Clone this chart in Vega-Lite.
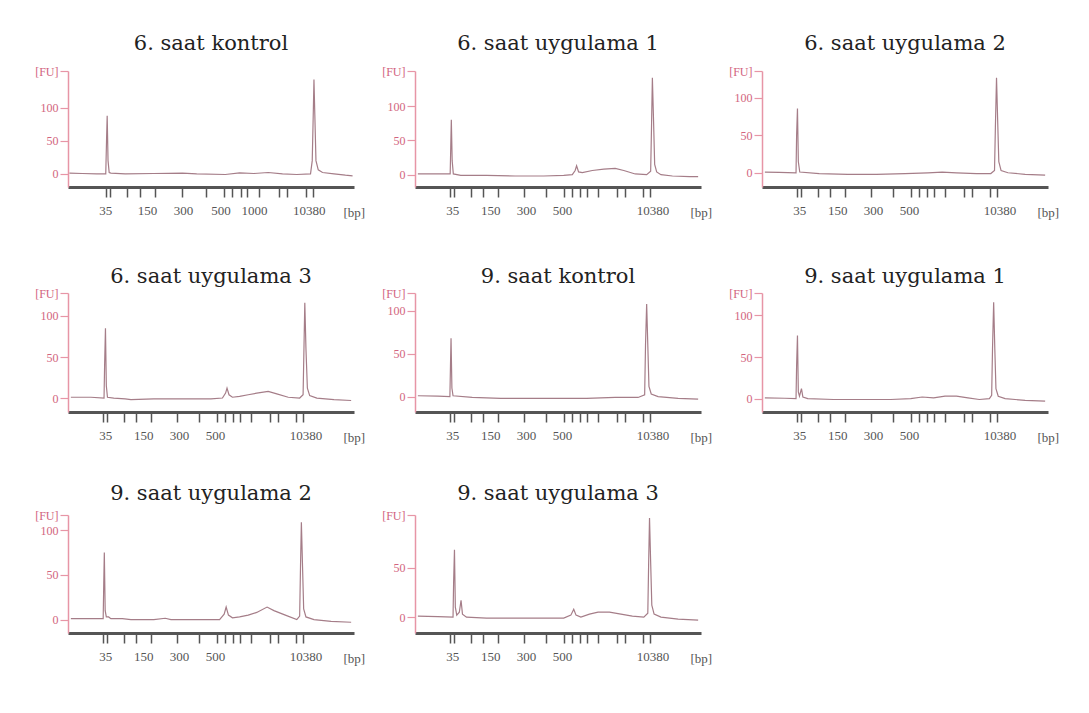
{
  "$schema": "https://vega.github.io/schema/vega-lite/v6.json",
  "background": "white",
  "padding": {"left": 34, "top": 33, "right": 5, "bottom": 5},
  "config": {
    "view": {"stroke": null},
    "font": "Liberation Serif",
    "title": {"font": "DejaVu Serif", "fontSize": 21, "fontWeight": "normal", "color": "#222222", "anchor": "middle"},
    "axisX": {
      "domainColor": "#555555", "domainWidth": 3, "tickColor": "#555555", "tickWidth": 1.5, "tickSize": 10,
      "labelColor": "#555555", "labelFont": "Liberation Serif", "labelFontSize": 13, "labelPadding": 7,
      "labelOverlap": false, "labelBound": false, "labelFlush": false, "grid": false,
      "titleFont": "Liberation Serif", "titleFontSize": 13, "titleFontWeight": "normal",
      "titleColor": "#555555", "titleAlign": "left", "titleBaseline": "middle", "titleX": 275, "titleY": 25,
      "tickOpacity": {"condition": {"test": "indexof([13,26.3,38.8,51.4,83,27.6,40.2,53.3,65,84.2], datum.value) >= 0", "value": 0}, "value": 1}
    },
    "axisY": {
      "domainColor": "#e795a6", "domainWidth": 1.5, "tickColor": "#e795a6", "tickWidth": 1.2, "tickSize": 8,
      "labelColor": "#d2647e", "labelFont": "Liberation Serif", "labelFontSize": 12, "labelPadding": 2,
      "grid": false, "labelOverlap": false
    },
    "line": {"color": "#a57d88", "strokeWidth": 1.2}
  },
  "datasets": {
    "p1": [{"x":0.5,"fu":1},{"x":5,"fu":0.5},{"x":10,"fu":0},{"x":13.2,"fu":0},{"x":13.5,"fu":55},{"x":13.7,"fu":88},{"x":14.0,"fu":20},{"x":14.4,"fu":2},{"x":15,"fu":1},{"x":20,"fu":0},{"x":30,"fu":0.5},{"x":40,"fu":1},{"x":45,"fu":0},{"x":55,"fu":-1},{"x":60,"fu":1.5},{"x":65,"fu":0.5},{"x":70,"fu":2},{"x":75,"fu":0},{"x":80,"fu":-1},{"x":84.8,"fu":0},{"x":85.4,"fu":20},{"x":85.8,"fu":100},{"x":86.0,"fu":143},{"x":86.3,"fu":90},{"x":86.7,"fu":20},{"x":87.5,"fu":6},{"x":89,"fu":2},{"x":93,"fu":0},{"x":97,"fu":-2},{"x":99.5,"fu":-3}],
    "p2": [{"x":1,"fu":1},{"x":8,"fu":1},{"x":12.3,"fu":1},{"x":12.5,"fu":40},{"x":12.7,"fu":80},{"x":13.0,"fu":20},{"x":13.4,"fu":1},{"x":16,"fu":-1},{"x":25,"fu":-1},{"x":35,"fu":-2},{"x":45,"fu":-2},{"x":52,"fu":-1},{"x":55,"fu":0},{"x":56.0,"fu":6},{"x":56.5,"fu":13},{"x":57.2,"fu":4},{"x":58.5,"fu":3},{"x":62,"fu":6},{"x":66,"fu":8},{"x":70,"fu":9},{"x":73,"fu":6},{"x":77,"fu":1},{"x":81,"fu":0},{"x":82.4,"fu":5},{"x":82.7,"fu":70},{"x":83.0,"fu":141},{"x":83.4,"fu":80},{"x":83.8,"fu":15},{"x":84.5,"fu":4},{"x":86,"fu":0},{"x":90,"fu":-2},{"x":96,"fu":-3},{"x":99,"fu":-3}],
    "p3": [{"x":1,"fu":1},{"x":6,"fu":0.5},{"x":11.9,"fu":0},{"x":12.1,"fu":50},{"x":12.4,"fu":86},{"x":12.7,"fu":15},{"x":13.2,"fu":1},{"x":20,"fu":-1},{"x":30,"fu":-2},{"x":40,"fu":-2},{"x":50,"fu":-1},{"x":58,"fu":0},{"x":63,"fu":1},{"x":68,"fu":0},{"x":75,"fu":-1},{"x":80,"fu":-1},{"x":81.3,"fu":3},{"x":81.6,"fu":60},{"x":82.0,"fu":127},{"x":82.4,"fu":70},{"x":82.8,"fu":15},{"x":83.6,"fu":3},{"x":86,"fu":0},{"x":92,"fu":-2},{"x":99,"fu":-3}],
    "p4": [{"x":1,"fu":1},{"x":8,"fu":1},{"x":12.6,"fu":0},{"x":12.8,"fu":40},{"x":13.1,"fu":85},{"x":13.4,"fu":15},{"x":13.8,"fu":1},{"x":16,"fu":0},{"x":20,"fu":-1},{"x":22,"fu":-2},{"x":30,"fu":-1},{"x":40,"fu":-1},{"x":50,"fu":-1},{"x":54,"fu":0},{"x":55.1,"fu":6},{"x":55.6,"fu":12},{"x":56.3,"fu":4},{"x":57.5,"fu":1},{"x":60,"fu":2},{"x":63,"fu":4},{"x":66,"fu":6},{"x":70,"fu":8},{"x":73,"fu":5},{"x":77,"fu":1},{"x":81,"fu":0},{"x":82.2,"fu":4},{"x":82.5,"fu":60},{"x":82.8,"fu":116},{"x":83.2,"fu":60},{"x":83.7,"fu":12},{"x":84.5,"fu":3},{"x":87,"fu":0},{"x":93,"fu":-2},{"x":99,"fu":-3}],
    "p5": [{"x":1,"fu":1},{"x":8,"fu":0.5},{"x":12.2,"fu":0},{"x":12.4,"fu":35},{"x":12.6,"fu":68},{"x":12.9,"fu":10},{"x":13.3,"fu":1},{"x":20,"fu":-1},{"x":30,"fu":-2},{"x":45,"fu":-2},{"x":60,"fu":-2},{"x":70,"fu":-1},{"x":78,"fu":-1},{"x":80.3,"fu":2},{"x":80.6,"fu":60},{"x":81.0,"fu":108},{"x":81.4,"fu":60},{"x":81.8,"fu":12},{"x":82.6,"fu":3},{"x":85,"fu":0},{"x":92,"fu":-2},{"x":99,"fu":-3}],
    "p6": [{"x":1,"fu":1},{"x":8,"fu":0.5},{"x":11.9,"fu":0},{"x":12.1,"fu":40},{"x":12.4,"fu":76},{"x":12.7,"fu":8},{"x":13.1,"fu":3},{"x":13.8,"fu":12},{"x":14.3,"fu":2},{"x":16,"fu":0},{"x":25,"fu":-1},{"x":35,"fu":-1},{"x":45,"fu":-1},{"x":52,"fu":0},{"x":56,"fu":2},{"x":60,"fu":1},{"x":64,"fu":3},{"x":68,"fu":3},{"x":72,"fu":1},{"x":76,"fu":-1},{"x":79.5,"fu":0},{"x":80.3,"fu":4},{"x":80.6,"fu":60},{"x":81.0,"fu":116},{"x":81.4,"fu":60},{"x":81.8,"fu":12},{"x":82.6,"fu":3},{"x":85,"fu":0},{"x":92,"fu":-2},{"x":99,"fu":-3}],
    "p7": [{"x":1,"fu":1},{"x":8,"fu":1},{"x":12.3,"fu":1},{"x":12.5,"fu":40},{"x":12.7,"fu":75},{"x":13.0,"fu":10},{"x":13.4,"fu":3},{"x":14.2,"fu":3},{"x":15,"fu":1},{"x":19,"fu":1},{"x":22,"fu":0},{"x":30,"fu":0},{"x":34,"fu":1.5},{"x":36,"fu":0},{"x":45,"fu":0},{"x":53,"fu":0},{"x":54.6,"fu":6},{"x":55.3,"fu":14},{"x":56.1,"fu":5},{"x":57.5,"fu":2},{"x":60,"fu":3},{"x":63,"fu":5},{"x":66,"fu":8},{"x":69.6,"fu":14},{"x":72,"fu":10},{"x":76,"fu":5},{"x":80,"fu":0},{"x":81.0,"fu":4},{"x":81.3,"fu":60},{"x":81.6,"fu":109},{"x":82.0,"fu":60},{"x":82.4,"fu":12},{"x":83.2,"fu":3},{"x":86,"fu":0},{"x":92,"fu":-2},{"x":99,"fu":-3}],
    "p8": [{"x":1,"fu":1},{"x":8,"fu":0.5},{"x":13.3,"fu":0},{"x":13.5,"fu":35},{"x":13.8,"fu":68},{"x":14.1,"fu":10},{"x":14.6,"fu":2},{"x":15.5,"fu":5},{"x":16.1,"fu":17},{"x":16.6,"fu":3},{"x":18,"fu":0},{"x":25,"fu":-1},{"x":35,"fu":-1},{"x":45,"fu":-1},{"x":52,"fu":-1},{"x":54.5,"fu":2},{"x":55.5,"fu":8},{"x":56.3,"fu":2},{"x":58,"fu":0},{"x":61,"fu":3},{"x":64,"fu":5},{"x":68,"fu":5},{"x":72,"fu":3},{"x":76,"fu":1},{"x":80,"fu":0},{"x":81.4,"fu":4},{"x":81.7,"fu":55},{"x":82.0,"fu":100},{"x":82.4,"fu":55},{"x":82.8,"fu":12},{"x":83.6,"fu":3},{"x":86,"fu":0},{"x":92,"fu":-2},{"x":99,"fu":-3}]
  },
  "bounds": "flush",
  "spacing": 222,
  "vconcat": [
    {
      "bounds": "flush",
      "spacing": 61,
      "hconcat": [
        {
          "title": {"text": "6. saat kontrol", "offset": 11},
          "width": 286, "height": 116,
          "data": {"name": "p1"},
          "mark": {"type": "line"},
          "encoding": {
            "x": {"field": "x", "type": "quantitative", "scale": {"domain": [0, 100], "nice": false, "zero": false},
                  "axis": {"title": "[bp]", "values": [13.3,14.7,20.8,25.3,30.5,39.9,48.1,54.5,57.4,60.4,62.7,66.8,73.8,76.7,83.2,85.5,13,27.6,40.2,53.3,65,84.2],
                           "labelExpr": "datum.value == 13 ? '35' : datum.value == 27.6 ? '150' : datum.value == 40.2 ? '300' : datum.value == 53.3 ? '500' : datum.value == 65 ? '1000' : datum.value == 84.2 ? '10380' : ''"}},
            "y": {"field": "fu", "type": "quantitative", "scale": {"domain": [-20, 156], "nice": false, "zero": false},
                  "axis": {"title": null, "values": [0, 50, 100, 156], "labelExpr": "datum.value == 156 ? '[FU]' : datum.label"}}
          }
        },
        {
          "title": {"text": "6. saat uygulama 1", "offset": 11},
          "width": 286, "height": 116,
          "data": {"name": "p2"},
          "mark": {"type": "line"},
          "encoding": {
            "x": {"field": "x", "type": "quantitative", "scale": {"domain": [0, 100], "nice": false, "zero": false},
                  "axis": {"title": "[bp]", "values": [12.4,13.75,19.6,23.9,29.0,38.0,45.9,52.1,54.9,57.8,60.0,64.0,70.7,73.5,79.8,82.0,13,26.3,38.8,51.4,83],
                           "labelExpr": "datum.value == 13 ? '35' : datum.value == 26.3 ? '150' : datum.value == 38.8 ? '300' : datum.value == 51.4 ? '500' : datum.value == 83 ? '10380' : ''"}},
            "y": {"field": "fu", "type": "quantitative", "scale": {"domain": [-18, 151], "nice": false, "zero": false},
                  "axis": {"title": null, "values": [0, 50, 100, 151], "labelExpr": "datum.value == 151 ? '[FU]' : datum.label"}}
          }
        },
        {
          "title": {"text": "6. saat uygulama 2", "offset": 11},
          "width": 286, "height": 116,
          "data": {"name": "p3"},
          "mark": {"type": "line"},
          "encoding": {
            "x": {"field": "x", "type": "quantitative", "scale": {"domain": [0, 100], "nice": false, "zero": false},
                  "axis": {"title": "[bp]", "values": [12.4,13.75,19.6,23.9,29.0,38.0,45.9,52.1,54.9,57.8,60.0,64.0,70.7,73.5,79.8,82.0,13,26.3,38.8,51.4,83],
                           "labelExpr": "datum.value == 13 ? '35' : datum.value == 26.3 ? '150' : datum.value == 38.8 ? '300' : datum.value == 51.4 ? '500' : datum.value == 83 ? '10380' : ''"}},
            "y": {"field": "fu", "type": "quantitative", "scale": {"domain": [-19, 136], "nice": false, "zero": false},
                  "axis": {"title": null, "values": [0, 50, 100, 136], "labelExpr": "datum.value == 136 ? '[FU]' : datum.label"}}
          }
        }
      ]
    },
    {
      "bounds": "flush",
      "spacing": 61,
      "hconcat": [
        {
          "title": {"text": "6. saat uygulama 3", "offset": 0},
          "width": 286, "height": 119,
          "data": {"name": "p4"},
          "mark": {"type": "line"},
          "encoding": {
            "x": {"field": "x", "type": "quantitative", "scale": {"domain": [0, 100], "nice": false, "zero": false},
                  "axis": {"title": "[bp]", "values": [12.4,13.75,19.6,23.9,29.0,38.0,45.9,52.1,54.9,57.8,60.0,64.0,70.7,73.5,79.8,82.0,13,26.3,38.8,51.4,83],
                           "labelExpr": "datum.value == 13 ? '35' : datum.value == 26.3 ? '150' : datum.value == 38.8 ? '300' : datum.value == 51.4 ? '500' : datum.value == 83 ? '10380' : ''"}},
            "y": {"field": "fu", "type": "quantitative", "scale": {"domain": [-17, 128], "nice": false, "zero": false},
                  "axis": {"title": null, "values": [0, 50, 100, 128], "labelExpr": "datum.value == 128 ? '[FU]' : datum.label"}}
          }
        },
        {
          "title": {"text": "9. saat kontrol", "offset": 0},
          "width": 286, "height": 119,
          "data": {"name": "p5"},
          "mark": {"type": "line"},
          "encoding": {
            "x": {"field": "x", "type": "quantitative", "scale": {"domain": [0, 100], "nice": false, "zero": false},
                  "axis": {"title": "[bp]", "values": [12.4,13.75,19.6,23.9,29.0,38.0,45.9,52.1,54.9,57.8,60.0,64.0,70.7,73.5,79.8,82.0,13,26.3,38.8,51.4,83],
                           "labelExpr": "datum.value == 13 ? '35' : datum.value == 26.3 ? '150' : datum.value == 38.8 ? '300' : datum.value == 51.4 ? '500' : datum.value == 83 ? '10380' : ''"}},
            "y": {"field": "fu", "type": "quantitative", "scale": {"domain": [-18, 121], "nice": false, "zero": false},
                  "axis": {"title": null, "values": [0, 50, 100, 121], "labelExpr": "datum.value == 121 ? '[FU]' : datum.label"}}
          }
        },
        {
          "title": {"text": "9. saat uygulama 1", "offset": 0},
          "width": 286, "height": 119,
          "data": {"name": "p6"},
          "mark": {"type": "line"},
          "encoding": {
            "x": {"field": "x", "type": "quantitative", "scale": {"domain": [0, 100], "nice": false, "zero": false},
                  "axis": {"title": "[bp]", "values": [12.4,13.75,19.6,23.9,29.0,38.0,45.9,52.1,54.9,57.8,60.0,64.0,70.7,73.5,79.8,82.0,13,26.3,38.8,51.4,83],
                           "labelExpr": "datum.value == 13 ? '35' : datum.value == 26.3 ? '150' : datum.value == 38.8 ? '300' : datum.value == 51.4 ? '500' : datum.value == 83 ? '10380' : ''"}},
            "y": {"field": "fu", "type": "quantitative", "scale": {"domain": [-16, 127], "nice": false, "zero": false},
                  "axis": {"title": null, "values": [0, 50, 100, 127], "labelExpr": "datum.value == 127 ? '[FU]' : datum.label"}}
          }
        }
      ]
    },
    {
      "bounds": "flush",
      "spacing": 61,
      "hconcat": [
        {
          "title": {"text": "9. saat uygulama 2", "offset": 5},
          "width": 286, "height": 118,
          "data": {"name": "p7"},
          "mark": {"type": "line"},
          "encoding": {
            "x": {"field": "x", "type": "quantitative", "scale": {"domain": [0, 100], "nice": false, "zero": false},
                  "axis": {"title": "[bp]", "values": [12.4,13.75,19.6,23.9,29.0,38.0,45.9,52.1,54.9,57.8,60.0,64.0,70.7,73.5,79.8,82.0,13,26.3,38.8,51.4,83],
                           "labelExpr": "datum.value == 13 ? '35' : datum.value == 26.3 ? '150' : datum.value == 38.8 ? '300' : datum.value == 51.4 ? '500' : datum.value == 83 ? '10380' : ''"}},
            "y": {"field": "fu", "type": "quantitative", "scale": {"domain": [-15, 117], "nice": false, "zero": false},
                  "axis": {"title": null, "values": [0, 50, 100, 117], "labelExpr": "datum.value == 117 ? '[FU]' : datum.label"}}
          }
        },
        {
          "title": {"text": "9. saat uygulama 3", "offset": 5},
          "width": 286, "height": 118,
          "data": {"name": "p8"},
          "mark": {"type": "line"},
          "encoding": {
            "x": {"field": "x", "type": "quantitative", "scale": {"domain": [0, 100], "nice": false, "zero": false},
                  "axis": {"title": "[bp]", "values": [12.4,13.75,19.6,23.9,29.0,38.0,45.9,52.1,54.9,57.8,60.0,64.0,70.7,73.5,79.8,82.0,13,26.3,38.8,51.4,83],
                           "labelExpr": "datum.value == 13 ? '35' : datum.value == 26.3 ? '150' : datum.value == 38.8 ? '300' : datum.value == 51.4 ? '500' : datum.value == 83 ? '10380' : ''"}},
            "y": {"field": "fu", "type": "quantitative", "scale": {"domain": [-16, 103], "nice": false, "zero": false},
                  "axis": {"title": null, "values": [0, 50, 103], "labelExpr": "datum.value == 103 ? '[FU]' : datum.label"}}
          }
        }
      ]
    }
  ]
}
